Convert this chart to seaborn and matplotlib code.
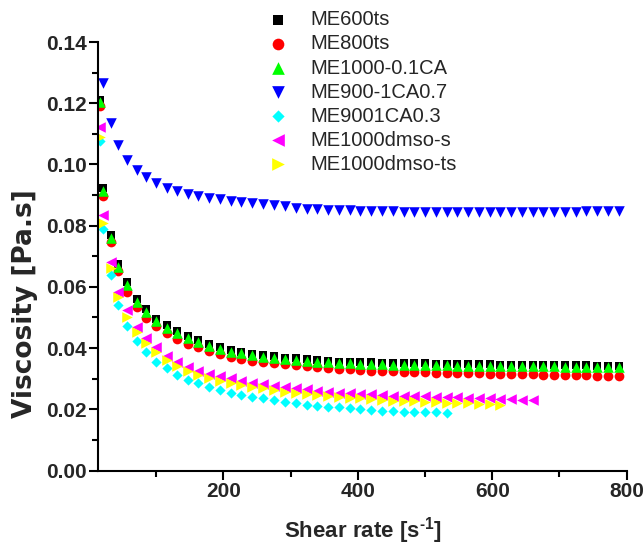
import matplotlib
matplotlib.use("Agg")
import matplotlib.pyplot as plt
import seaborn as sns
from matplotlib.ticker import MultipleLocator, FormatStrFormatter

# ---- data ----
shear_rate = [16.5, 21.5, 32.5, 44, 57, 71, 85, 100, 116, 131.5, 147, 163, 179, 195, 211, 227,
              243, 259, 276, 292, 308, 324, 340, 356, 372, 388, 404, 420, 436, 452, 468, 484,
              500, 516, 532, 548, 564, 580, 596, 612, 628, 644, 660, 676, 692, 708, 724, 740,
              756, 772, 788]

me600ts = [0.1212, 0.0922, 0.0768, 0.0675, 0.0615, 0.0561, 0.0527, 0.0495, 0.0474, 0.0455,
           0.0440, 0.0427, 0.0412, 0.0402, 0.0394, 0.0388, 0.0382, 0.0377, 0.0374, 0.0369,
           0.0366, 0.0363, 0.0360, 0.0358, 0.0356, 0.0355, 0.0354, 0.0353, 0.0352, 0.0351,
           0.0351, 0.0350, 0.0350, 0.0349, 0.0349, 0.0348, 0.0348, 0.0347, 0.0347, 0.0346,
           0.0346, 0.0346, 0.0345, 0.0345, 0.0345, 0.0344, 0.0344, 0.0344, 0.0343, 0.0343,
           0.0343]

me800ts = [0.1190, 0.0898, 0.0748, 0.0651, 0.0584, 0.0535, 0.0499, 0.0472, 0.0450, 0.0429,
           0.0413, 0.0402, 0.0391, 0.0381, 0.0372, 0.0365, 0.0359, 0.0354, 0.0350, 0.0347,
           0.0344, 0.0340, 0.0337, 0.0334, 0.0332, 0.0331, 0.0328, 0.0326, 0.0325, 0.0324,
           0.0323, 0.0322, 0.0321, 0.0320, 0.0319, 0.0319, 0.0318, 0.0317, 0.0316, 0.0316,
           0.0315, 0.0314, 0.0314, 0.0313, 0.0312, 0.0312, 0.0311, 0.0311, 0.0310, 0.0310,
           0.0309]

me1000_01ca = [0.1205, 0.0912, 0.0759, 0.0665, 0.0606, 0.0552, 0.0519, 0.0488, 0.0467, 0.0448,
               0.0434, 0.0421, 0.0406, 0.0396, 0.0388, 0.0383, 0.0377, 0.0372, 0.0369, 0.0364,
               0.0361, 0.0358, 0.0355, 0.0353, 0.0352, 0.0350, 0.0349, 0.0348, 0.0347, 0.0346,
               0.0346, 0.0345, 0.0345, 0.0344, 0.0344, 0.0343, 0.0343, 0.0342, 0.0342, 0.0341,
               0.0341, 0.0341, 0.0340, 0.0340, 0.0340, 0.0339, 0.0339, 0.0339, 0.0338, 0.0338,
               0.0338]

# starts at the second shear-rate point
me900_1ca07 = [0.1265, 0.1134, 0.1063, 0.1014, 0.0982, 0.0960, 0.0938, 0.0924, 0.0913, 0.0903,
               0.0897, 0.0891, 0.0886, 0.0880, 0.0876, 0.0873, 0.0870, 0.0867, 0.0863, 0.0859,
               0.0856, 0.0854, 0.0852, 0.0851, 0.0850, 0.0849, 0.0848, 0.0847, 0.0847, 0.0846,
               0.0846, 0.0845, 0.0845, 0.0845, 0.0845, 0.0845, 0.0845, 0.0845, 0.0845, 0.0845,
               0.0845, 0.0846, 0.0846, 0.0846, 0.0846, 0.0846, 0.0847, 0.0847, 0.0847, 0.0848]

me9001ca03 = [0.1078, 0.0788, 0.0638, 0.0541, 0.0472, 0.0424, 0.0388, 0.0355, 0.0334, 0.0312,
              0.0296, 0.0285, 0.0272, 0.0263, 0.0254, 0.0247, 0.0241, 0.0236, 0.0230, 0.0225,
              0.0220, 0.0214, 0.0211, 0.0208, 0.0206, 0.0203, 0.0200, 0.0198, 0.0194, 0.0193,
              0.0192, 0.0191, 0.0190, 0.0190, 0.0189]

me1000dmso_s = [0.1123, 0.0835, 0.0682, 0.0584, 0.0524, 0.0470, 0.0432, 0.0404, 0.0374, 0.0355,
                0.0339, 0.0326, 0.0315, 0.0309, 0.0301, 0.0293, 0.0287, 0.0282, 0.0276, 0.0272,
                0.0269, 0.0265, 0.0261, 0.0257, 0.0254, 0.0252, 0.0250, 0.0249, 0.0247, 0.0245,
                0.0244, 0.0243, 0.0242, 0.0241, 0.0240, 0.0239, 0.0238, 0.0237, 0.0236, 0.0235,
                0.0232, 0.0230, 0.0229]

me1000dmso_ts = [0.1088, 0.0810, 0.0662, 0.0568, 0.0502, 0.0454, 0.0416, 0.0388, 0.0361, 0.0341,
                 0.0326, 0.0312, 0.0301, 0.0292, 0.0285, 0.0279, 0.0274, 0.0269, 0.0263, 0.0257,
                 0.0254, 0.0250, 0.0247, 0.0243, 0.0241, 0.0238, 0.0236, 0.0233, 0.0230, 0.0228,
                 0.0227, 0.0226, 0.0225, 0.0224, 0.0222, 0.0221, 0.0219, 0.0218, 0.0216, 0.0215]

labels = ["ME600ts", "ME800ts", "ME1000-0.1CA", "ME900-1CA0.7",
          "ME9001CA0.3", "ME1000dmso-s", "ME1000dmso-ts"]
values = [me600ts, me800ts, me1000_01ca, me900_1ca07, me9001ca03, me1000dmso_s, me1000dmso_ts]
x_values = [shear_rate[:len(me600ts)], shear_rate[:len(me800ts)], shear_rate[:len(me1000_01ca)],
            shear_rate[1:1 + len(me900_1ca07)], shear_rate[:len(me9001ca03)],
            shear_rate[:len(me1000dmso_s)], shear_rate[:len(me1000dmso_ts)]]

markers = ["s", "o", "^", "v", "D", "<", ">"]
colors = ["#000000", "#ff0000", "#00ff00", "#0000ff", "#00ffff", "#ff00ff", "#ffff00"]
msizes = [6.2, 7.0, 7.6, 7.6, 5.2, 7.6, 7.6]

sns.set_style("ticks")
plt.rcParams["font.family"] = ["Liberation Sans", "DejaVu Sans"]
plt.rcParams["font.weight"] = "bold"
plt.rcParams["mathtext.fontset"] = "custom"
plt.rcParams["mathtext.rm"] = "Liberation Sans:bold"
plt.rcParams["mathtext.default"] = "rm"

fig = plt.figure(figsize=(6.44, 5.48), dpi=100)
ax = fig.add_axes([0.15264, 0.14142, 0.82050, 0.78193])

for lab, yv, xv, mk, col, ms in zip(labels, values, x_values, markers, colors, msizes):
    sns.scatterplot(x=xv, y=yv, marker=mk, color=col, s=ms ** 2, linewidth=0,
                    label=lab, ax=ax)

ax.set_xlim(14, 800)
ax.set_ylim(0, 0.14)
ax.xaxis.set_major_locator(MultipleLocator(200))
ax.xaxis.set_minor_locator(MultipleLocator(100))
ax.yaxis.set_major_locator(MultipleLocator(0.02))
ax.yaxis.set_minor_locator(MultipleLocator(0.01))
ax.yaxis.set_major_formatter(FormatStrFormatter("%.2f"))

sns.despine(ax=ax)
for side in ["left", "bottom"]:
    ax.spines[side].set_linewidth(1.5)
    ax.spines[side].set_color("black")
ax.tick_params(which="major", direction="out", length=6.5, width=1.5, color="black",
               labelsize=15, pad=2)
ax.tick_params(which="minor", direction="out", length=4, width=1.5, color="black")
for t in ax.get_xticklabels() + ax.get_yticklabels():
    t.set_fontweight("bold")

ax.set_xlabel("Shear rate [s$^{\u20101}$]", fontsize=16, fontweight="bold", va="top")
ax.xaxis.set_label_coords(0.5, -0.104)
ax.set_ylabel("Viscosity [Pa.s]", fontsize=19, fontweight="bold",
              family=["DejaVu Sans"])
ax.yaxis.set_label_coords(-0.1141, 0.3893)

ax.legend(loc="upper left", bbox_to_anchor=(0.3784, 1.014), bbox_transform=fig.transFigure,
          frameon=False, prop={"family": "Liberation Sans", "size": 14.5, "weight": "normal"},
          handlelength=1.6, handletextpad=0.8, labelspacing=0.25, borderpad=0.4,
          scatterpoints=1, markerscale=1.2)

fig.savefig("out.png", dpi=100)
